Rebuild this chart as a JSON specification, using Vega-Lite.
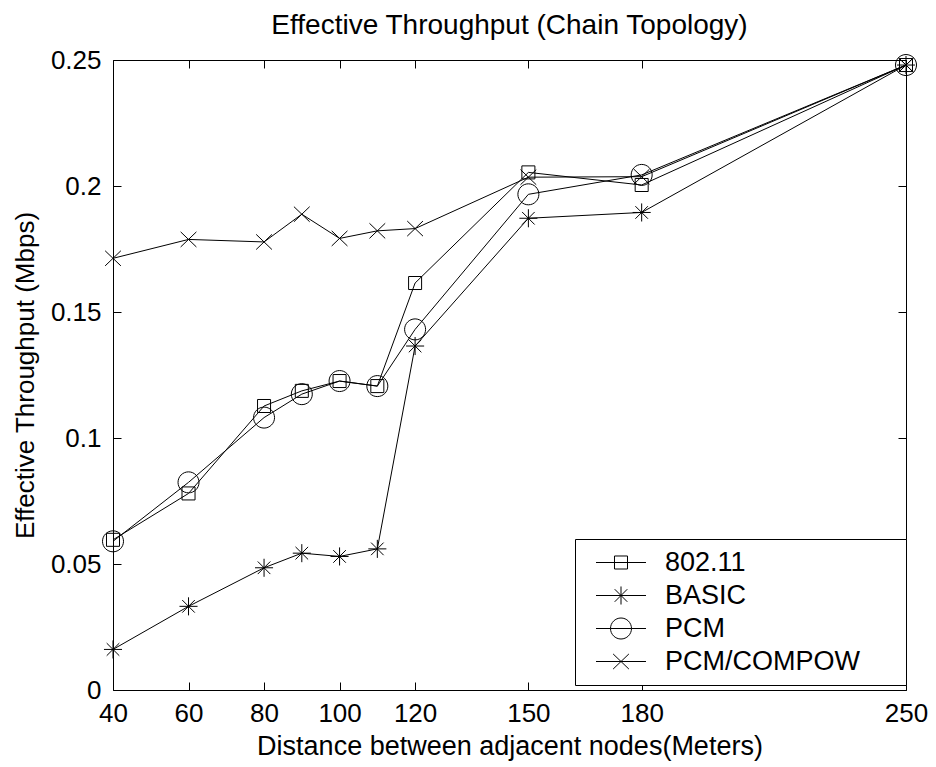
{
  "$schema": "https://vega.github.io/schema/vega-lite/v6.json",
  "width": 793,
  "height": 630,
  "autosize": {"type": "none"},
  "padding": {"left": 113, "top": 60, "right": 30, "bottom": 77},
  "background": "white",
  "config": {"view": {"stroke": null}, "font": "Liberation Sans"},
  "title": {"text": "Effective Throughput (Chain Topology)", "fontSize": 28, "fontWeight": "normal", "font": "Liberation Sans", "color": "black", "offset": 7},
  "data": {"values": [
    {"d": 40, "t": 0.0596, "s": "802.11"},
    {"d": 60, "t": 0.078, "s": "802.11"},
    {"d": 80, "t": 0.1127, "s": "802.11"},
    {"d": 90, "t": 0.1187, "s": "802.11"},
    {"d": 100, "t": 0.1226, "s": "802.11"},
    {"d": 110, "t": 0.1206, "s": "802.11"},
    {"d": 120, "t": 0.1615, "s": "802.11"},
    {"d": 150, "t": 0.2054, "s": "802.11"},
    {"d": 180, "t": 0.2004, "s": "802.11"},
    {"d": 250, "t": 0.248, "s": "802.11"},
    {"d": 40, "t": 0.0161, "s": "BASIC"},
    {"d": 60, "t": 0.0332, "s": "BASIC"},
    {"d": 80, "t": 0.0485, "s": "BASIC"},
    {"d": 90, "t": 0.0543, "s": "BASIC"},
    {"d": 100, "t": 0.053, "s": "BASIC"},
    {"d": 110, "t": 0.056, "s": "BASIC"},
    {"d": 120, "t": 0.1365, "s": "BASIC"},
    {"d": 150, "t": 0.1872, "s": "BASIC"},
    {"d": 180, "t": 0.1895, "s": "BASIC"},
    {"d": 250, "t": 0.248, "s": "BASIC"},
    {"d": 40, "t": 0.059, "s": "PCM"},
    {"d": 60, "t": 0.0824, "s": "PCM"},
    {"d": 80, "t": 0.1081, "s": "PCM"},
    {"d": 90, "t": 0.1174, "s": "PCM"},
    {"d": 100, "t": 0.1226, "s": "PCM"},
    {"d": 110, "t": 0.1206, "s": "PCM"},
    {"d": 120, "t": 0.1431, "s": "PCM"},
    {"d": 150, "t": 0.1967, "s": "PCM"},
    {"d": 180, "t": 0.2044, "s": "PCM"},
    {"d": 250, "t": 0.248, "s": "PCM"},
    {"d": 40, "t": 0.1713, "s": "PCM/COMPOW"},
    {"d": 60, "t": 0.1788, "s": "PCM/COMPOW"},
    {"d": 80, "t": 0.1778, "s": "PCM/COMPOW"},
    {"d": 90, "t": 0.1888, "s": "PCM/COMPOW"},
    {"d": 100, "t": 0.1792, "s": "PCM/COMPOW"},
    {"d": 110, "t": 0.1822, "s": "PCM/COMPOW"},
    {"d": 120, "t": 0.1831, "s": "PCM/COMPOW"},
    {"d": 150, "t": 0.2035, "s": "PCM/COMPOW"},
    {"d": 180, "t": 0.2037, "s": "PCM/COMPOW"},
    {"d": 250, "t": 0.248, "s": "PCM/COMPOW"}
  ]},
  "layer": [
    {
      "mark": {"type": "line", "color": "black", "strokeWidth": 1},
      "encoding": {
        "detail": {"field": "s"},
        "x": {"field": "d", "type": "quantitative", "scale": {"domain": [40, 250], "nice": false, "zero": false},
          "axis": {"orient": "bottom", "values": [40, 60, 80, 100, 120, 150, 180, 250], "grid": false, "labelFlush": false, "labelOverlap": false,
            "labelFontSize": 26, "labelFont": "Liberation Sans", "labelColor": "black", "labelPadding": 18,
            "tickSize": -8, "tickColor": "black", "domainColor": "black",
            "title": "Distance between adjacent nodes(Meters)", "titleFontSize": 27, "titleFontWeight": "normal", "titleFont": "Liberation Sans", "titleColor": "black", "titlePadding": 7}},
        "y": {"field": "t", "type": "quantitative", "scale": {"domain": [0, 0.25], "nice": false, "zero": false},
          "axis": {"orient": "left", "values": [0, 0.05, 0.1, 0.15, 0.2, 0.25], "format": ".2~f", "grid": false, "labelFlush": false, "labelOverlap": false,
            "labelFontSize": 26, "labelFont": "Liberation Sans", "labelColor": "black", "labelPadding": 20,
            "tickSize": -8, "tickColor": "black", "domainColor": "black",
            "title": "Effective Throughput (Mbps)", "titleFontSize": 26, "titleFontWeight": "normal", "titleFont": "Liberation Sans", "titleColor": "black", "titlePadding": 12}}
      }
    },
    {
      "mark": {"type": "point", "filled": false, "stroke": "black", "strokeWidth": 1, "size": 441, "opacity": 1},
      "encoding": {
        "x": {"field": "d", "type": "quantitative", "scale": {"domain": [40, 250], "nice": false, "zero": false}, "axis": null},
        "y": {"field": "t", "type": "quantitative", "scale": {"domain": [0, 0.25], "nice": false, "zero": false}, "axis": null},
        "shape": {"field": "s", "type": "nominal", "legend": null,
          "scale": {"domain": ["802.11", "BASIC", "PCM", "PCM/COMPOW"],
            "range": [
              "M-0.62,-0.62H0.62V0.62H-0.62Z",
              "M-0.86,0H0.86M0,-0.86V0.86M-0.6,-0.6L0.6,0.6M-0.6,0.6L0.6,-0.6",
              "M1,0A1,1,0,1,1,-1,0A1,1,0,1,1,1,0Z",
              "M-0.75,-0.72L0.75,0.72M-0.75,0.72L0.75,-0.72"
            ]}}
      }
    },
    {
      "mark": {"type": "point", "filled": false, "stroke": "black", "strokeWidth": 1, "size": 441, "opacity": 0},
      "encoding": {
        "x": {"field": "d", "type": "quantitative", "scale": {"domain": [40, 250], "nice": false, "zero": false},
          "axis": {"orient": "top", "values": [40, 60, 80, 100, 120, 150, 180, 250], "grid": false, "labels": false, "title": null,
            "tickSize": -8, "tickColor": "black", "domainColor": "black"}},
        "y": {"field": "t", "type": "quantitative", "scale": {"domain": [0, 0.25], "nice": false, "zero": false},
          "axis": {"orient": "right", "values": [0, 0.05, 0.1, 0.15, 0.2, 0.25], "grid": false, "labels": false, "title": null,
            "tickSize": -8, "tickColor": "black", "domainColor": "black"}},
        "shape": {"field": "s", "type": "nominal",
          "scale": {"domain": ["802.11", "BASIC", "PCM", "PCM/COMPOW"],
            "range": [
              "M-2.38,0H2.38M-0.62,-0.62H0.62V0.62H-0.62ZM26,0",
              "M-2.38,0H2.38M0,-0.86V0.86M-0.6,-0.6L0.6,0.6M-0.6,0.6L0.6,-0.6M26,0",
              "M-2.38,0H-1M1,0H2.38M-1,0H1M1,0A1,1,0,1,1,-1,0A1,1,0,1,1,1,0ZM26,0",
              "M-2.38,0H2.38M-0.75,-0.72L0.75,0.72M-0.75,0.72L0.75,-0.72M26,0"
            ]},
          "legend": {"title": null, "orient": "none", "legendX": 462, "legendY": 479, "padding": 10,
            "strokeColor": "black", "fillColor": "white",
            "labelFontSize": 27, "labelFont": "Liberation Sans", "labelColor": "black", "labelLimit": 400,
            "symbolSize": 441, "symbolStrokeColor": "black", "symbolFillColor": "transparent", "symbolStrokeWidth": 1, "symbolOpacity": 1,
            "symbolOffset": 22.5, "labelOffset": 30.5, "rowPadding": 5}}
      }
    }
  ],
  "resolve": {"scale": {"shape": "independent"}, "axis": {"x": "independent", "y": "independent"}}
}
